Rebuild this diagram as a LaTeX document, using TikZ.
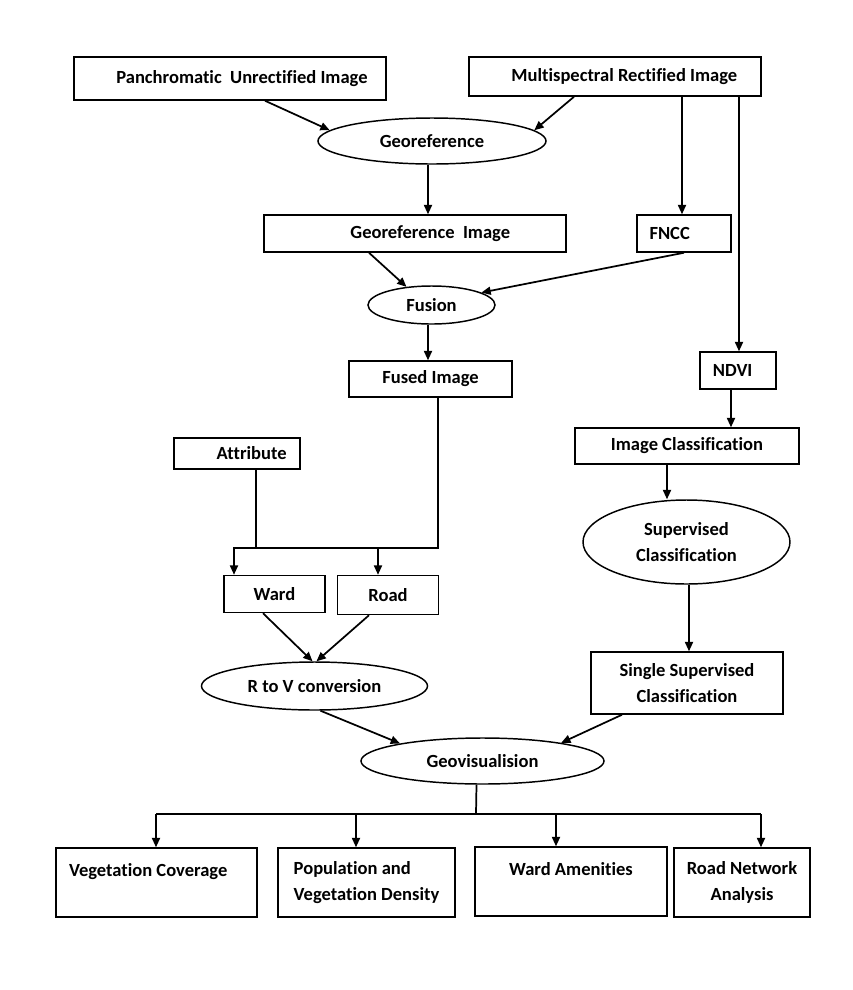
\documentclass[tikz,border=0pt]{standalone}
\usepackage{fontspec}
\setmainfont{Carlito}[Ligatures=NoCommon]
\usetikzlibrary{shapes.geometric,arrows.meta,calc}
\begin{document}
\begin{tikzpicture}[x=0.75pt,y=-0.75pt,
  every node/.style={font=\fontsize{13.9}{19.5}\selectfont\bfseries, inner sep=0pt},
  box/.style={draw, line width=1.1pt, rectangle},
  ell/.style={draw, line width=1.1pt, ellipse},
  sz/.style n args={2}{minimum width=#1*0.75pt, minimum height=#2*0.75pt},
  arr/.style={line width=1.3pt, -{Triangle[length=7pt,width=6pt]}},
  ln/.style={line width=1.3pt},
]
\useasboundingbox (0,0) rectangle (853,990);

% top row
\node[box, sz={312}{43}] (pan) at (230,78.5) {\hspace*{18pt}Panchromatic\ \ Unrectified Image};
\node[box, sz={292}{39}] (ms) at (615,76.5) {\hspace*{14pt}Multispectral Rectified Image};
\node[ell, sz={228}{46}] (geo) at (432,141) {Georeference};

\node[box, sz={302}{37}] (gimg) at (415,233.5) {\hspace*{23pt}Georeference\ \ Image};
\node[box, sz={94}{37}] (fncc) at (684,233.5) {FNCC\hspace*{21.5pt}};
\node[ell, sz={127}{38}] (fusion) at (431.5,305) {Fusion};
\node[box, sz={163}{36}] (fused) at (430.5,379) {Fused Image};
\node[box, sz={76}{37}] (ndvi) at (738,370.5) {NDVI\hspace*{8pt}};
\node[box, sz={224}{36}] (ic) at (687,446) {Image Classification};
\node[ell, sz={207}{84}, align=center] (sup) at (686.5,542) {Supervised\\Classification};
\node[box, sz={192}{62}, align=center] (ssc) at (687,683) {Single Supervised\\Classification};

\node[box, sz={126}{31}] (attr) at (237,453.5) {\hspace*{22pt}Attribute};
\node[box, sz={101}{37}] (ward) at (274.5,594) {Ward};
\node[box, sz={101}{39}] (road) at (388,595) {Road};
\node[ell, sz={226}{48}] (rtv) at (314.5,686) {R to V conversion};
\node[ell, sz={243}{46}] (geovis) at (482.5,761) {Geovisualision};

% bottom row
\node[box, sz={201}{69}, align=left] (veg) at (156.5,882.5) {Vegetation Coverage\hspace*{12.5pt}\\\mbox{}};
\node[box, sz={177}{69}, align=left] (pop) at (366.5,882.5) {Population and\\Vegetation Density};
\node[box, sz={192}{69}, align=center] (wam) at (571,881.5) {Ward Amenities\\\mbox{}};
\node[box, sz={136}{69}, align=center] (rna) at (742,882.5) {Road Network\\Analysis};

% connectors
\draw[arr] (265,0 |- pan.south) -- (geo.174);
\draw[arr] (574,0 |- ms.south) -- (geo.6);
\draw[arr] (682,0 |- ms.south) -- (682,0 |- fncc.north);
\draw[arr] (739,0 |- ms.south) -- (739,0 |- ndvi.north);
\draw[arr] (428,0 |- geo.south) -- (428,0 |- gimg.north);
\draw[arr] (369,0 |- gimg.south) -- (fusion.144);
\draw[arr] (684,0 |- fncc.south) -- (fusion.14);
\draw[arr] (428,0 |- fusion.south) -- (428,0 |- fused.north);
\draw[arr] (731,0 |- ndvi.south) -- (731,0 |- ic.north);
\draw[arr] (667,0 |- ic.south) -- (667,0 |- sup.north);
\draw[arr] (689,0 |- sup.south) -- (689,0 |- ssc.north);

\coordinate (jn) at (438,547.7);
\draw[ln] (256,0 |- attr.south) -- (256,0 |- jn);
\draw[arr] (438,0 |- fused.south) -- (jn) -- (234,0 |- jn) -- (234,0 |- ward.north);
\draw[arr] (378,0 |- jn) -- (378,0 |- road.north);

\draw[arr] (263,0 |- ward.south) -- ([xshift=-1.5pt]rtv.north);
\draw[arr] (369,0 |- road.south) -- ([xshift=1.5pt]rtv.north);
\draw[arr] ([xshift=4.5pt]rtv.south) -- (geovis.168);
\draw[arr] (622,0 |- ssc.south) -- (geovis.13);

\coordinate (sp) at (476,814);
\draw[ln] ([xshift=-4.5pt]geovis.south) -- (sp);
\draw[ln] (156,0 |- sp) -- (761,0 |- sp);
\draw[arr] (156,0 |- sp) -- (156,0 |- veg.north);
\draw[arr] (356,0 |- sp) -- (356,0 |- pop.north);
\draw[arr] (556,0 |- sp) -- (556,0 |- wam.north);
\draw[arr] (761,0 |- sp) -- (761,0 |- rna.north);
\end{tikzpicture}
\end{document}
